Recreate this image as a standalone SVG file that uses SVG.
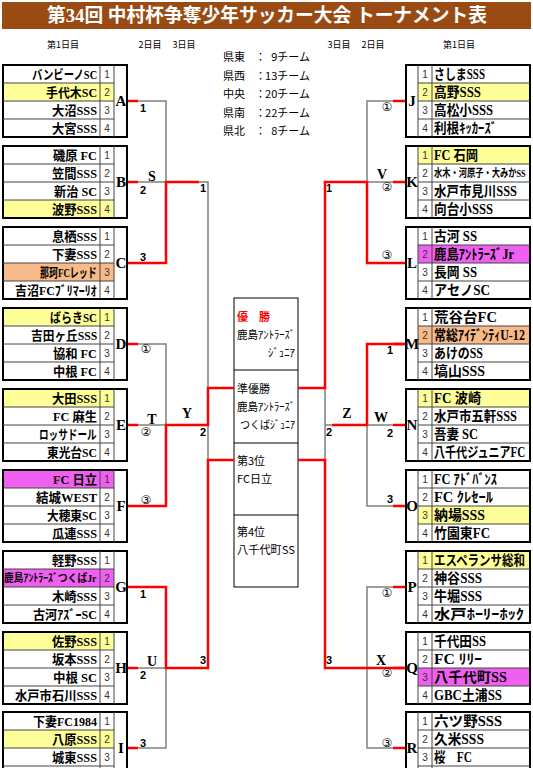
<svg xmlns="http://www.w3.org/2000/svg" width="533" height="768" viewBox="0 0 533 768">
<style>
.fr{fill:none;stroke:#000;stroke-width:2}
.ln{fill:none;stroke:#444;stroke-width:1}
.y{fill:#FFFF99}.o{fill:#F8BA88}.m{fill:#F060F0}
.nl{font-family:"Liberation Serif","Noto Sans CJK JP",serif;font-weight:bold;font-size:13px;text-anchor:start;fill:#000}
.nr{font-family:"Liberation Serif","Noto Sans CJK JP",serif;font-weight:bold;font-size:14px;text-anchor:start;fill:#000}
.no{font-family:"Liberation Sans",sans-serif;font-size:10px;text-anchor:middle;fill:#333}
.lt{font-family:"Liberation Serif",serif;font-weight:bold;font-size:15px;text-anchor:middle;fill:#000}
.r{fill:none;stroke:#F00;stroke-width:2.5}
.g{fill:none;stroke:#808080;stroke-width:1.5}
.lb{font-family:"Liberation Sans",sans-serif;font-size:11px;font-weight:bold;text-anchor:middle;fill:#000}
.ll{font-family:"Liberation Serif",serif;font-size:14px;font-weight:bold;text-anchor:middle;fill:#000}
.ci{font-family:"DejaVu Sans","Noto Sans CJK JP",sans-serif;font-size:12px;text-anchor:middle;fill:#000}
.dy{font-family:"Noto Sans CJK JP",sans-serif;font-size:9px;text-anchor:middle;fill:#000}
.inf{font-family:"Noto Sans CJK JP",sans-serif;font-size:11px;fill:#000}
.pn{font-family:"Noto Sans CJK JP",sans-serif;font-size:11px;fill:#000}
</style>
<g id="header">
<rect x="2" y="2" width="529" height="27" fill="#9A4B14"/>
<text x="47" y="22" font-family="Liberation Serif,'Noto Sans CJK JP',serif" font-weight="bold" font-size="19" fill="#fff" textLength="440" lengthAdjust="spacingAndGlyphs">第34回 中村杯争奪少年サッカー大会 トーナメント表</text>
<text class="dy" x="63" y="48">第1日目</text>
<text class="dy" x="150" y="48">2日目</text>
<text class="dy" x="184" y="48">3日目</text>
<text class="dy" x="339" y="48">3日目</text>
<text class="dy" x="373" y="48">2日目</text>
<text class="dy" x="459" y="48">第1日目</text>
</g>
<g id="info">
<text class="inf" x="223" y="61">県東</text><text class="inf" x="255" y="61">：</text><text class="inf" x="310" y="61" text-anchor="end">9チーム</text>
<text class="inf" x="223" y="79.5">県西</text><text class="inf" x="255" y="79.5">：</text><text class="inf" x="310" y="79.5" text-anchor="end">13チーム</text>
<text class="inf" x="223" y="98">中央</text><text class="inf" x="255" y="98">：</text><text class="inf" x="310" y="98" text-anchor="end">20チーム</text>
<text class="inf" x="223" y="116.5">県南</text><text class="inf" x="255" y="116.5">：</text><text class="inf" x="310" y="116.5" text-anchor="end">22チーム</text>
<text class="inf" x="223" y="135">県北</text><text class="inf" x="255" y="135">：</text><text class="inf" x="310" y="135" text-anchor="end">8チーム</text>
</g>
<g id="results">
<rect x="234" y="298" width="64" height="289" fill="#fff" stroke="#000" stroke-width="1"/>
<path d="M234 370H298M234 443H298M234 515H298" stroke="#000" stroke-width="1"/>
<text class="pn" x="237" y="321" font-weight="bold" style="fill:#F00">優　勝</text>
<text class="pn" x="237" y="339" textLength="58" lengthAdjust="spacingAndGlyphs">鹿島ｱﾝﾄﾗｰｽﾞ</text>
<text class="pn" x="268" y="357" textLength="27" lengthAdjust="spacingAndGlyphs">ｼﾞｭﾆｱ</text>
<text class="pn" x="237" y="393">準優勝</text>
<text class="pn" x="237" y="411" textLength="58" lengthAdjust="spacingAndGlyphs">鹿島ｱﾝﾄﾗｰｽﾞ</text>
<text class="pn" x="240" y="429" textLength="55" lengthAdjust="spacingAndGlyphs">つくばｼﾞｭﾆｱ</text>
<text class="pn" x="237" y="465">第3位</text>
<text class="pn" x="237" y="483">FC日立</text>
<text class="pn" x="237" y="536">第4位</text>
<text class="pn" x="237" y="554" textLength="58" lengthAdjust="spacingAndGlyphs">八千代町SS</text>
</g>
<g id="A" transform="translate(0,64)">
<rect class="y" x="3" y="19" width="111" height="18"/>
<rect class="fr" x="3" y="1" width="124" height="72"/>
<path class="ln" d="M3 19H114M3 37H114M3 55H114M100 1V73M114 1V73"/>
<text class="nl" transform="translate(32,15) scale(0.8,1)">バンビーノSC</text>
<text class="nl" x="46" y="33" textLength="51" lengthAdjust="spacingAndGlyphs">手代木SC</text>
<text class="nl" x="52" y="51" textLength="45" lengthAdjust="spacingAndGlyphs">大沼SSS</text>
<text class="nl" x="52" y="69" textLength="45" lengthAdjust="spacingAndGlyphs">大宮SSS</text>
<text class="no" x="107" y="14">1</text><text class="no" x="107" y="32">2</text><text class="no" x="107" y="50">3</text><text class="no" x="107" y="68">4</text>
<text class="lt" x="121" y="42">A</text>
</g>
<g id="B" transform="translate(0,145)">
<rect class="y" x="3" y="55" width="111" height="18"/>
<rect class="fr" x="3" y="1" width="124" height="72"/>
<path class="ln" d="M3 19H114M3 37H114M3 55H114M100 1V73M114 1V73"/>
<text class="nl" x="53" y="15" textLength="44" lengthAdjust="spacingAndGlyphs">磯原 FC</text>
<text class="nl" x="52" y="33" textLength="45" lengthAdjust="spacingAndGlyphs">笠間SSS</text>
<text class="nl" x="54" y="51" textLength="43" lengthAdjust="spacingAndGlyphs">新治 SC</text>
<text class="nl" x="52" y="69" textLength="45" lengthAdjust="spacingAndGlyphs">波野SSS</text>
<text class="no" x="107" y="14">1</text><text class="no" x="107" y="32">2</text><text class="no" x="107" y="50">3</text><text class="no" x="107" y="68">4</text>
<text class="lt" x="121" y="42">B</text>
</g>
<g id="C" transform="translate(0,226)">
<rect class="o" x="3" y="37" width="111" height="18"/>
<rect class="fr" x="3" y="1" width="124" height="72"/>
<path class="ln" d="M3 19H114M3 37H114M3 55H114M100 1V73M114 1V73"/>
<text class="nl" x="52" y="15" textLength="45" lengthAdjust="spacingAndGlyphs">息栖SSS</text>
<text class="nl" x="52" y="33" textLength="45" lengthAdjust="spacingAndGlyphs">下妻SSS</text>
<text class="nl" transform="translate(40,51) scale(0.69,1)">那珂FCレッド</text>
<text class="nl" transform="translate(15,69) scale(0.92,1)">吉沼FCﾌﾞﾘﾏｰﾘｵ</text>
<text class="no" x="107" y="14">1</text><text class="no" x="107" y="32">2</text><text class="no" x="107" y="50">3</text><text class="no" x="107" y="68">4</text>
<text class="lt" x="121" y="42">C</text>
</g>
<g id="D" transform="translate(0,307)">
<rect class="y" x="3" y="1" width="111" height="18"/>
<rect class="fr" x="3" y="1" width="124" height="72"/>
<path class="ln" d="M3 19H114M3 37H114M3 55H114M100 1V73M114 1V73"/>
<text class="nl" x="50" y="15" textLength="47" lengthAdjust="spacingAndGlyphs">ばらきSC</text>
<text class="nl" transform="translate(31,33) scale(0.9,1)">吉田ヶ丘SSS</text>
<text class="nl" x="53" y="51" textLength="44" lengthAdjust="spacingAndGlyphs">協和 FC</text>
<text class="nl" x="53" y="69" textLength="44" lengthAdjust="spacingAndGlyphs">中根 FC</text>
<text class="no" x="107" y="14">1</text><text class="no" x="107" y="32">2</text><text class="no" x="107" y="50">3</text><text class="no" x="107" y="68">4</text>
<text class="lt" x="121" y="42">D</text>
</g>
<g id="E" transform="translate(0,388)">
<rect class="y" x="3" y="1" width="111" height="18"/>
<rect class="fr" x="3" y="1" width="124" height="72"/>
<path class="ln" d="M3 19H114M3 37H114M3 55H114M100 1V73M114 1V73"/>
<text class="nl" x="52" y="15" textLength="45" lengthAdjust="spacingAndGlyphs">大田SSS</text>
<text class="nl" x="53" y="33" textLength="44" lengthAdjust="spacingAndGlyphs">FC 麻生</text>
<text class="nl" transform="translate(39,51) scale(0.74,1)">ロッサドール</text>
<text class="nl" x="47" y="69" textLength="50" lengthAdjust="spacingAndGlyphs">東光台SC</text>
<text class="no" x="107" y="14">1</text><text class="no" x="107" y="32">2</text><text class="no" x="107" y="50">3</text><text class="no" x="107" y="68">4</text>
<text class="lt" x="121" y="42">E</text>
</g>
<g id="F" transform="translate(0,469)">
<rect class="m" x="3" y="1" width="111" height="18"/>
<rect class="fr" x="3" y="1" width="124" height="72"/>
<path class="ln" d="M3 19H114M3 37H114M3 55H114M100 1V73M114 1V73"/>
<text class="nl" x="53" y="15" textLength="44" lengthAdjust="spacingAndGlyphs">FC 日立</text>
<text class="nl" x="36" y="33" textLength="61" lengthAdjust="spacingAndGlyphs">結城WEST</text>
<text class="nl" x="47" y="51" textLength="50" lengthAdjust="spacingAndGlyphs">大穂東SC</text>
<text class="nl" x="52" y="69" textLength="45" lengthAdjust="spacingAndGlyphs">瓜連SSS</text>
<text class="no" x="107" y="14">1</text><text class="no" x="107" y="32">2</text><text class="no" x="107" y="50">3</text><text class="no" x="107" y="68">4</text>
<text class="lt" x="121" y="42">F</text>
</g>
<g id="G" transform="translate(0,550)">
<rect class="m" x="3" y="19" width="111" height="18"/>
<rect class="fr" x="3" y="1" width="124" height="72"/>
<path class="ln" d="M3 19H114M3 37H114M3 55H114M100 1V73M114 1V73"/>
<text class="nl" x="52" y="15" textLength="45" lengthAdjust="spacingAndGlyphs">軽野SSS</text>
<text class="nl" font-size="11" style="font-size:11px" transform="translate(4,32) scale(0.89,1)">鹿島ｱﾝﾄﾗｰｽﾞつくばJr</text>
<text class="nl" x="52" y="51" textLength="45" lengthAdjust="spacingAndGlyphs">木崎SSS</text>
<text class="nl" x="33" y="69" textLength="64" lengthAdjust="spacingAndGlyphs">古河ｱｽﾞｰSC</text>
<text class="no" x="107" y="14">1</text><text class="no" x="107" y="32">2</text><text class="no" x="107" y="50">3</text><text class="no" x="107" y="68">4</text>
<text class="lt" x="121" y="42">G</text>
</g>
<g id="H" transform="translate(0,631)">
<rect class="y" x="3" y="1" width="111" height="18"/>
<rect class="fr" x="3" y="1" width="124" height="72"/>
<path class="ln" d="M3 19H114M3 37H114M3 55H114M100 1V73M114 1V73"/>
<text class="nl" x="52" y="15" textLength="45" lengthAdjust="spacingAndGlyphs">佐野SSS</text>
<text class="nl" x="52" y="33" textLength="45" lengthAdjust="spacingAndGlyphs">坂本SSS</text>
<text class="nl" x="53" y="51" textLength="44" lengthAdjust="spacingAndGlyphs">中根 SC</text>
<text class="nl" x="15" y="69" textLength="82" lengthAdjust="spacingAndGlyphs">水戸市石川SSS</text>
<text class="no" x="107" y="14">1</text><text class="no" x="107" y="32">2</text><text class="no" x="107" y="50">3</text><text class="no" x="107" y="68">4</text>
<text class="lt" x="121" y="42">H</text>
</g>
<g id="I" transform="translate(0,711)">
<rect class="y" x="3" y="19" width="111" height="18"/>
<rect class="fr" x="3" y="1" width="124" height="72"/>
<path class="ln" d="M3 19H114M3 37H114M3 55H114M100 1V73M114 1V73"/>
<text class="nl" x="33" y="15" textLength="64" lengthAdjust="spacingAndGlyphs">下妻FC1984</text>
<text class="nl" x="52" y="33" textLength="45" lengthAdjust="spacingAndGlyphs">八原SSS</text>
<text class="nl" x="52" y="51" textLength="45" lengthAdjust="spacingAndGlyphs">城東SSS</text>
<text class="no" x="107" y="14">1</text><text class="no" x="107" y="32">2</text><text class="no" x="107" y="50">3</text>
<text class="lt" x="121" y="42">I</text>
</g>
<g id="J" transform="translate(0,64)">
<rect class="y" x="418" y="19" width="112" height="18"/>
<rect class="fr" x="406" y="1" width="124" height="72"/>
<path class="ln" d="M418 19H530M418 37H530M418 55H530M418 1V73M432 1V73"/>
<text class="nr" x="434" y="15" textLength="51" lengthAdjust="spacingAndGlyphs">さしまSSS</text>
<text class="nr" x="434" y="33" textLength="47" lengthAdjust="spacingAndGlyphs">高野SSS</text>
<text class="nr" x="434" y="51" textLength="59" lengthAdjust="spacingAndGlyphs">高松小SSS</text>
<text class="nr" x="434" y="69" textLength="63" lengthAdjust="spacingAndGlyphs">利根ｷｯｶｰｽﾞ</text>
<text class="no" x="425" y="14">1</text><text class="no" x="425" y="32">2</text><text class="no" x="425" y="50">3</text><text class="no" x="425" y="68">4</text>
<text class="lt" x="412" y="42">J</text>
</g>
<g id="K" transform="translate(0,145)">
<rect class="y" x="418" y="1" width="112" height="18"/>
<rect class="fr" x="406" y="1" width="124" height="72"/>
<path class="ln" d="M418 19H530M418 37H530M418 55H530M418 1V73M432 1V73"/>
<text class="nr" x="434" y="15" textLength="44" lengthAdjust="spacingAndGlyphs">FC 石岡</text>
<text class="nr" style="font-size:11px" transform="translate(434,32) scale(0.75,1)">水木・河原子・大みかSS</text>
<text class="nr" x="434" y="51" textLength="83" lengthAdjust="spacingAndGlyphs">水戸市見川SSS</text>
<text class="nr" x="434" y="69" textLength="59" lengthAdjust="spacingAndGlyphs">向台小SSS</text>
<text class="no" x="425" y="14">1</text><text class="no" x="425" y="32">2</text><text class="no" x="425" y="50">3</text><text class="no" x="425" y="68">4</text>
<text class="lt" x="412" y="42">K</text>
</g>
<g id="L" transform="translate(0,226)">
<rect class="m" x="418" y="19" width="112" height="18"/>
<rect class="fr" x="406" y="1" width="124" height="72"/>
<path class="ln" d="M418 19H530M418 37H530M418 55H530M418 1V73M432 1V73"/>
<text class="nr" x="434" y="15" textLength="43" lengthAdjust="spacingAndGlyphs">古河 SS</text>
<text class="nr" x="434" y="33" textLength="80" lengthAdjust="spacingAndGlyphs">鹿島ｱﾝﾄﾗｰｽﾞJr</text>
<text class="nr" x="434" y="51" textLength="43" lengthAdjust="spacingAndGlyphs">長岡 SS</text>
<text class="nr" x="434" y="69" textLength="56" lengthAdjust="spacingAndGlyphs">アセノSC</text>
<text class="no" x="425" y="14">1</text><text class="no" x="425" y="32">2</text><text class="no" x="425" y="50">3</text><text class="no" x="425" y="68">4</text>
<text class="lt" x="412" y="42">L</text>
</g>
<g id="M" transform="translate(0,307)">
<rect class="o" x="418" y="19" width="112" height="18"/>
<rect class="fr" x="406" y="1" width="124" height="72"/>
<path class="ln" d="M418 19H530M418 37H530M418 55H530M418 1V73M432 1V73"/>
<text class="nr" x="434" y="15" textLength="63" lengthAdjust="spacingAndGlyphs">荒谷台FC</text>
<text class="nr" transform="translate(434,33) scale(0.86,1)">常総ｱｲﾃﾞﾝﾃｨU-12</text>
<text class="nr" x="434" y="51" textLength="49" lengthAdjust="spacingAndGlyphs">あけのSS</text>
<text class="nr" x="434" y="69" textLength="51" lengthAdjust="spacingAndGlyphs">塙山SSS</text>
<text class="no" x="425" y="14">1</text><text class="no" x="425" y="32">2</text><text class="no" x="425" y="50">3</text><text class="no" x="425" y="68">4</text>
<text class="lt" x="412" y="42">M</text>
</g>
<g id="N" transform="translate(0,388)">
<rect class="y" x="418" y="1" width="112" height="18"/>
<rect class="fr" x="406" y="1" width="124" height="72"/>
<path class="ln" d="M418 19H530M418 37H530M418 55H530M418 1V73M432 1V73"/>
<text class="nr" x="434" y="15" textLength="47" lengthAdjust="spacingAndGlyphs">FC 波崎</text>
<text class="nr" x="434" y="33" textLength="83" lengthAdjust="spacingAndGlyphs">水戸市五軒SSS</text>
<text class="nr" x="434" y="51" textLength="44" lengthAdjust="spacingAndGlyphs">吾妻 SC</text>
<text class="nr" transform="translate(434,69) scale(0.79,1)">八千代ジュニアFC</text>
<text class="no" x="425" y="14">1</text><text class="no" x="425" y="32">2</text><text class="no" x="425" y="50">3</text><text class="no" x="425" y="68">4</text>
<text class="lt" x="412" y="42">N</text>
</g>
<g id="O" transform="translate(0,469)">
<rect class="y" x="418" y="37" width="112" height="18"/>
<rect class="fr" x="406" y="1" width="124" height="72"/>
<path class="ln" d="M418 19H530M418 37H530M418 55H530M418 1V73M432 1V73"/>
<text class="nr" x="434" y="15" textLength="63" lengthAdjust="spacingAndGlyphs">FC ｱﾄﾞﾊﾞﾝｽ</text>
<text class="nr" x="434" y="33" textLength="59" lengthAdjust="spacingAndGlyphs">FC ｸﾚｾｰﾙ</text>
<text class="nr" x="434" y="51" textLength="51" lengthAdjust="spacingAndGlyphs">納場SSS</text>
<text class="nr" x="434" y="69" textLength="56" lengthAdjust="spacingAndGlyphs">竹園東FC</text>
<text class="no" x="425" y="14">1</text><text class="no" x="425" y="32">2</text><text class="no" x="425" y="50">3</text><text class="no" x="425" y="68">4</text>
<text class="lt" x="412" y="42">O</text>
</g>
<g id="P" transform="translate(0,550)">
<rect class="y" x="418" y="1" width="112" height="18"/>
<rect class="fr" x="406" y="1" width="124" height="72"/>
<path class="ln" d="M418 19H530M418 37H530M418 55H530M418 1V73M432 1V73"/>
<text class="nr" transform="translate(434,15) scale(0.82,1)">エスペランサ総和</text>
<text class="nr" x="434" y="33" textLength="48" lengthAdjust="spacingAndGlyphs">神谷SSS</text>
<text class="nr" x="434" y="51" textLength="48" lengthAdjust="spacingAndGlyphs">牛堀SSS</text>
<text class="nr" x="434" y="69" textLength="90" lengthAdjust="spacingAndGlyphs">水戸ﾎｰﾘｰﾎｯｸ</text>
<text class="no" x="425" y="14">1</text><text class="no" x="425" y="32">2</text><text class="no" x="425" y="50">3</text><text class="no" x="425" y="68">4</text>
<text class="lt" x="412" y="42">P</text>
</g>
<g id="Q" transform="translate(0,631)">
<rect class="m" x="418" y="37" width="112" height="18"/>
<rect class="fr" x="406" y="1" width="124" height="72"/>
<path class="ln" d="M418 19H530M418 37H530M418 55H530M418 1V73M432 1V73"/>
<text class="nr" x="434" y="15" textLength="52" lengthAdjust="spacingAndGlyphs">千代田SS</text>
<text class="nr" x="434" y="33" textLength="48" lengthAdjust="spacingAndGlyphs">FC ﾘﾘｰ</text>
<text class="nr" x="434" y="51" textLength="73" lengthAdjust="spacingAndGlyphs">八千代町SS</text>
<text class="nr" x="434" y="69" textLength="68" lengthAdjust="spacingAndGlyphs">GBC土浦SS</text>
<text class="no" x="425" y="14">1</text><text class="no" x="425" y="32">2</text><text class="no" x="425" y="50">3</text><text class="no" x="425" y="68">4</text>
<text class="lt" x="412" y="42">Q</text>
</g>
<g id="R" transform="translate(0,711)">
<rect class="fr" x="406" y="1" width="124" height="72"/>
<path class="ln" d="M418 19H530M418 37H530M418 55H530M418 1V73M432 1V73"/>
<text class="nr" x="434" y="15" textLength="68" lengthAdjust="spacingAndGlyphs">六ツ野SSS</text>
<text class="nr" x="434" y="33" textLength="50" lengthAdjust="spacingAndGlyphs">久米SSS</text>
<text class="nr" x="434" y="51" textLength="38" lengthAdjust="spacingAndGlyphs">桜　FC</text>
<text class="no" x="425" y="14">1</text><text class="no" x="425" y="32">2</text><text class="no" x="425" y="50">3</text>
<text class="lt" x="412" y="42">R</text>
</g>
<g id="connectors">
<path class="g" d="M138 101H166V182H138M199 182H208V388M208 425V460M138 344H166V425H138M138 668H166V748H138"/>
<path class="r" d="M128 101H138M128 182H138M128 263H138M128 344H138M128 425H138M128 506H138M128 587H138M128 668H138M128 748H138"/>
<path class="r" d="M138 263H166V182H199M138 506H166V425H208V388H234M138 587H166V668H208V460H234"/>
<path class="g" d="M393 101H367V182H393M332 425H325V388M325 460V425M393 425H367V506H393M393 587H367V748H393"/>
<path class="r" d="M393 101H405M393 182H405M393 263H405M393 344H405M393 425H405M393 506H405M393 587H405M393 668H405M393 748H405"/>
<path class="r" d="M393 263H367V182H325V388H298M405 344H367V425H332M405 668H325V460H298"/>
</g>
<g id="labels">
<text class="lb" x="143" y="112">1</text>
<text class="ll" x="152" y="181">S</text>
<text class="lb" x="143" y="194">2</text>
<text class="lb" x="143" y="261">3</text>
<text class="ci" x="146" y="353">①</text>
<text class="ll" x="152" y="424">T</text>
<text class="ci" x="146" y="436">②</text>
<text class="ci" x="146" y="504">③</text>
<text class="lb" x="143" y="598">1</text>
<text class="ll" x="152" y="666">U</text>
<text class="lb" x="143" y="679">2</text>
<text class="lb" x="143" y="747">3</text>
<text class="lb" x="203" y="192">1</text>
<text class="ll" x="187" y="418">Y</text>
<text class="lb" x="203" y="436">2</text>
<text class="lb" x="203" y="664">3</text>
<text class="ci" x="387" y="111">①</text>
<text class="ll" x="382" y="179">V</text>
<text class="ci" x="387" y="191">②</text>
<text class="ci" x="387" y="259">③</text>
<text class="lb" x="390" y="354">1</text>
<text class="ll" x="381" y="422">W</text>
<text class="lb" x="390" y="437">2</text>
<text class="lb" x="390" y="503">3</text>
<text class="ci" x="387" y="597">①</text>
<text class="ll" x="381" y="665">X</text>
<text class="ci" x="387" y="677">②</text>
<text class="ci" x="387" y="747">③</text>
<text class="lb" x="329" y="192">1</text>
<text class="ll" x="347" y="418">Z</text>
<text class="lb" x="329" y="436">2</text>
<text class="lb" x="329" y="664">3</text>
</g>
</svg>
